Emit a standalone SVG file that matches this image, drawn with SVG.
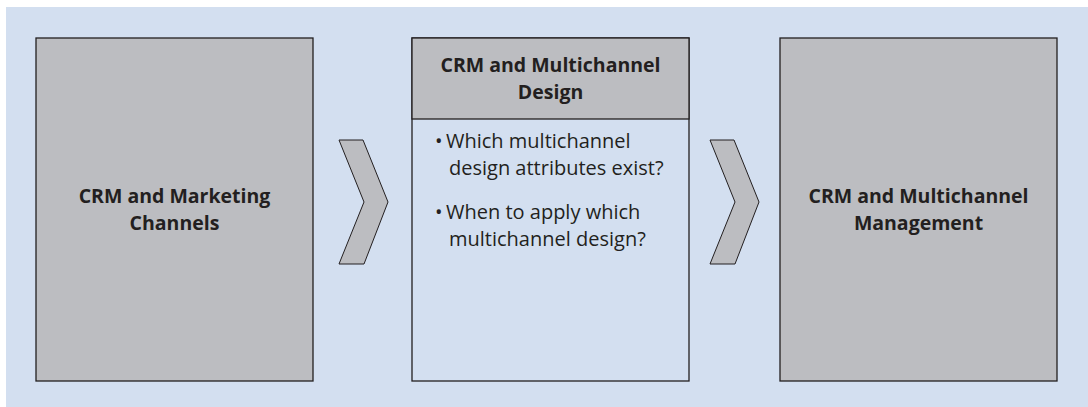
<svg xmlns="http://www.w3.org/2000/svg" width="1088" height="407" viewBox="0 0 1088 407">
<style>
.box{fill:#bcbdc1;stroke:#231f20;stroke-width:1.3}
.panel{fill:#d3dff0;stroke:#231f20;stroke-width:1.3}
.chev{fill:#bcbdc1;stroke:#231f20;stroke-width:1}
.t{font-family:"Open Sans","Liberation Sans",sans-serif;fill:#231f20}
.b{font-weight:bold;font-size:19.5px;text-anchor:middle}
.r{font-size:20px}
</style>
<rect x="6" y="7" width="1082" height="400" fill="#d3dff0"/>
<g id="node-marketing">
<rect class="box" x="36" y="38" width="277" height="343"/>
<text class="t b" x="174.5" y="203">CRM and Marketing</text>
<text class="t b" x="174.5" y="230">Channels</text>
</g>
<g id="node-design">
<rect class="panel" x="412" y="38" width="277" height="343"/>
<rect class="box" x="412" y="38" width="277" height="81"/>
<text class="t b" x="550.5" y="72">CRM and Multichannel</text>
<text class="t b" x="550.5" y="99">Design</text>
<text class="t r" x="435" y="148">•</text>
<text class="t r" x="446" y="148">Which multichannel</text>
<text class="t r" x="449" y="175">design attributes exist?</text>
<text class="t r" x="435" y="219">•</text>
<text class="t r" x="446" y="219">When to apply which</text>
<text class="t r" x="449" y="246">multichannel design?</text>
</g>
<g id="node-management">
<rect class="box" x="780" y="38" width="277" height="343"/>
<text class="t b" x="918.5" y="203">CRM and Multichannel</text>
<text class="t b" x="918.5" y="230">Management</text>
</g>
<g id="connectors">
<polygon class="chev" points="339,140 363,140 388,202 364,264 339,264 364,202"/>
<polygon class="chev" points="710,140 734,140 759,202 735,264 710,264 735,202"/>
</g>
</svg>
